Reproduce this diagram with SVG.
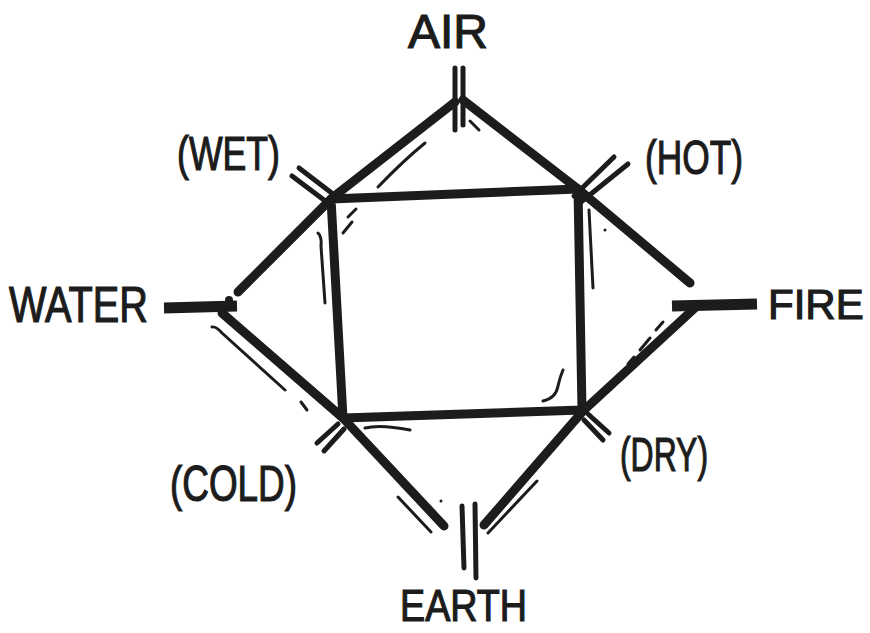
<svg xmlns="http://www.w3.org/2000/svg" width="870" height="633" viewBox="0 0 870 633">
<style>
.bg{fill:#ffffff}
.lbl{font-family:"Liberation Sans","DejaVu Sans",sans-serif;fill:#1c1c1c;stroke:#1c1c1c;stroke-width:1.2;text-anchor:start}
.thick{fill:none;stroke:#1c1c1c;stroke-width:9;stroke-linecap:round;stroke-linejoin:round}
.mid{fill:none;stroke:#1c1c1c;stroke-width:5;stroke-linecap:round;stroke-linejoin:round}
.thin{fill:none;stroke:#1c1c1c;stroke-width:3;stroke-linecap:round;stroke-linejoin:round}
.bar{fill:none;stroke:#1c1c1c;stroke-width:11;stroke-linecap:butt}
</style>
<rect class="bg" x="0" y="0" width="870" height="633"/>

<g id="connectors">
  <path class="thick" d="M331 199 L578 189 L582 410 L343 418 Z"/>
  <path class="thick" d="M455 102 L332 198 L238 292"/>
  <path class="thick" d="M463 100 L578 189 L690 283"/>
  <path class="thick" d="M222 313 L343 418 L444 526"/>
  <path class="thick" d="M484 525 L583 411 L697 306"/>
  <path class="thin" d="M425 143 Q404 160 378 187"/>
  <path class="thin" d="M470 121 L479 130"/>
  <path class="thin" d="M356 209 L348 217 M352 222 L343 233"/>
  <path class="thin" d="M318 233 Q322 237 321 246 L325 303"/>
  <path class="thin" d="M589 210 L593 288"/>
  <circle cx="605" cy="230" r="1.5" fill="#1c1c1c"/>
  <path class="thin" d="M543 401 Q556 398 558 386 Q560 377 563 370"/>
  <path class="thin" d="M212 327 Q216 326 222 333 L285 390"/>
  <path class="thin" d="M301 402 L307 410"/>
  <path class="thin" d="M365 428 Q380 424 410 430"/>
  <path class="thin" d="M398 497 L431 532"/>
  <circle cx="441" cy="501" r="1.5" fill="#1c1c1c"/>
  <path class="thin" d="M488 533 L537 481"/>
  <path class="thin" d="M663 322 L656 330 M650 338 L640 350 M634 357 L628 364"/>
</g>

<g id="node-air">
  <text class="lbl" x="408" y="48" font-size="48" textLength="80" lengthAdjust="spacingAndGlyphs">AIR</text>
  <path class="mid" d="M455 68 L455 130 M463 68 L463 125"/>
</g>

<g id="node-wet">
  <text class="lbl" x="177" y="170" font-size="48" textLength="103" lengthAdjust="spacingAndGlyphs">(WET)</text>
  <path class="mid" d="M292 176 L328 203 M299 168 L333 194"/>
</g>

<g id="node-hot">
  <text class="lbl" x="645" y="174" font-size="48" textLength="98" lengthAdjust="spacingAndGlyphs">(HOT)</text>
  <path class="mid" d="M574 196 L614 157 M581 202 L628 164"/>
</g>

<g id="node-water">
  <text class="lbl" x="9" y="322" font-size="50" textLength="139" lengthAdjust="spacingAndGlyphs">WATER</text>
  <path class="bar" d="M164 308 L237 306"/>
  <circle cx="229" cy="300" r="4" fill="#1c1c1c"/>
</g>

<g id="node-fire">
  <text class="lbl" x="768" y="319" font-size="42">FIRE</text>
  <path class="bar" d="M672 306 L757 304"/>
</g>

<g id="node-cold">
  <text class="lbl" x="170" y="501" font-size="50" textLength="127" lengthAdjust="spacingAndGlyphs">(COLD)</text>
  <path class="mid" d="M338 424 L317 443 M344 429 L324 451"/>
</g>

<g id="node-dry">
  <text class="lbl" x="620" y="471" font-size="48" textLength="88" lengthAdjust="spacingAndGlyphs">(DRY)</text>
  <path class="mid" d="M588 414 L609 433 M584 420 L603 440"/>
</g>

<g id="node-earth">
  <text class="lbl" x="400" y="621" font-size="44" textLength="127" lengthAdjust="spacingAndGlyphs">EARTH</text>
  <path class="mid" d="M462 506 L464 568 M475 504 L476 578"/>
</g>
</svg>
